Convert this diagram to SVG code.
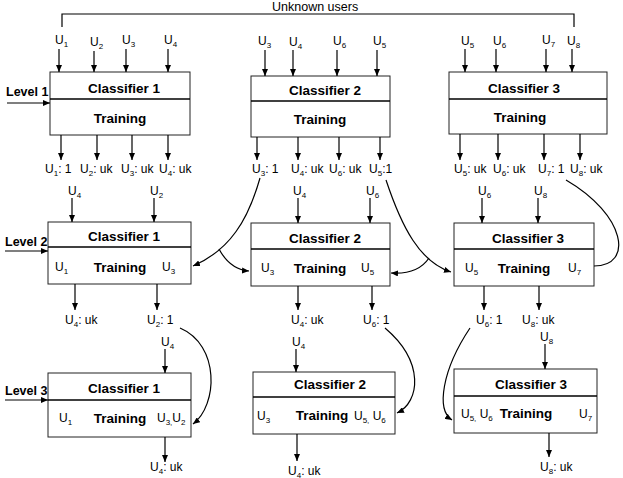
<svg xmlns="http://www.w3.org/2000/svg" width="623" height="478" viewBox="0 0 623 478">
<style>
text{font-family:"Liberation Sans",Arial,sans-serif;fill:#000}
.t{font-size:13.5px;font-weight:bold;text-anchor:middle}
.lv{font-size:12.5px;font-weight:bold}
.u{font-size:12px}
.s{font-size:8px}
.box{fill:#fff;stroke:#222;stroke-width:1}
.div{stroke:#000;stroke-width:1.6}
.c line,.c path{stroke:#000;stroke-width:1.2;fill:none}
.a{marker-end:url(#ah)}
</style>
<defs>
<marker id="ah" viewBox="0 0 7 6" refX="7" refY="3" markerWidth="7" markerHeight="6" orient="auto" markerUnits="userSpaceOnUse">
<path d="M0,0 L7,3 L0,6 z" fill="#000"/>
</marker>
</defs>
<rect width="623" height="478" fill="#fff"/>

<!-- level labels -->
<g id="levels">
<text class="lv" x="6" y="96">Level 1</text>
<text class="lv" x="5" y="246">Level 2</text>
<text class="lv" x="5" y="395">Level 3</text>
<text class="u" x="272" y="11" style="font-size:12.5px">Unknown users</text>
</g>

<!-- Level 1 nodes -->
<g id="L1C1">
<rect class="box" x="50" y="72" width="140" height="63"/>
<line class="div" x1="50" y1="99" x2="190" y2="99"/>
<text class="t" x="124" y="93">Classifier 1</text>
<text class="t" x="120" y="123">Training</text>
</g>
<g id="L1C2">
<rect class="box" x="251" y="76" width="139" height="61"/>
<line class="div" x1="251" y1="101" x2="390" y2="101"/>
<text class="t" x="325" y="95">Classifier 2</text>
<text class="t" x="320" y="124">Training</text>
</g>
<g id="L1C3">
<rect class="box" x="449" y="72" width="158" height="62"/>
<line class="div" x1="449" y1="99" x2="607" y2="99"/>
<text class="t" x="524" y="93">Classifier 3</text>
<text class="t" x="520" y="122">Training</text>
</g>

<!-- Level 2 nodes -->
<g id="L2C1">
<rect class="box" x="48" y="222" width="143" height="62"/>
<line class="div" x1="48" y1="247" x2="191" y2="247"/>
<text class="t" x="124" y="241">Classifier 1</text>
<text class="t" x="120" y="272">Training</text>
<text class="u" x="55" y="271">U<tspan class="s" dy="2.5">1</tspan></text>
<text class="u" x="162" y="271">U<tspan class="s" dy="2.5">3</tspan></text>
</g>
<g id="L2C2">
<rect class="box" x="251" y="223" width="139" height="63"/>
<line class="div" x1="251" y1="249" x2="390" y2="249"/>
<text class="t" x="325" y="243">Classifier 2</text>
<text class="t" x="320" y="273">Training</text>
<text class="u" x="261" y="272">U<tspan class="s" dy="2.5">3</tspan></text>
<text class="u" x="361" y="272">U<tspan class="s" dy="2.5">5</tspan></text>
</g>
<g id="L2C3">
<rect class="box" x="454" y="223" width="140" height="63"/>
<line class="div" x1="454" y1="249" x2="594" y2="249"/>
<text class="t" x="528" y="243">Classifier 3</text>
<text class="t" x="524" y="273">Training</text>
<text class="u" x="465" y="272">U<tspan class="s" dy="2.5">5</tspan></text>
<text class="u" x="568" y="272">U<tspan class="s" dy="2.5">7</tspan></text>
</g>

<!-- Level 3 nodes -->
<g id="L3C1">
<rect class="box" x="48" y="373" width="143" height="64"/>
<line class="div" x1="48" y1="400" x2="191" y2="400"/>
<text class="t" x="124" y="393">Classifier 1</text>
<text class="t" x="120" y="423">Training</text>
<text class="u" x="59" y="422">U<tspan class="s" dy="2.5">1</tspan></text>
<text class="u" x="157" y="422">U<tspan class="s" dy="2.5">3,</tspan><tspan dy="-2.5">U</tspan><tspan class="s" dy="2.5">2</tspan></text>
</g>
<g id="L3C2">
<rect class="box" x="253" y="372" width="142" height="62"/>
<line class="div" x1="253" y1="397" x2="395" y2="397"/>
<text class="t" x="330" y="389">Classifier 2</text>
<text class="t" x="322" y="420">Training</text>
<text class="u" x="257" y="420">U<tspan class="s" dy="2.5">3</tspan></text>
<text class="u" x="354" y="420">U<tspan class="s" dy="2.5">5,</tspan><tspan dy="-2.5"> U</tspan><tspan class="s" dy="2.5">6</tspan></text>
</g>
<g id="L3C3">
<rect class="box" x="454" y="369" width="143" height="64"/>
<line class="div" x1="454" y1="396" x2="597" y2="396"/>
<text class="t" x="531" y="389">Classifier 3</text>
<text class="t" x="526" y="418">Training</text>
<text class="u" x="461" y="418">U<tspan class="s" dy="2.5">5,</tspan><tspan dy="-2.5"> U</tspan><tspan class="s" dy="2.5">6</tspan></text>
<text class="u" x="579" y="418">U<tspan class="s" dy="2.5">7</tspan></text>
</g>

<!-- connectors -->
<g id="connectors" class="c">
<!-- bracket -->
<path d="M62,27 V14 H574 V27"/>
<!-- level arrows -->
<line class="a" x1="7" y1="103" x2="50" y2="103"/>
<line class="a" x1="5" y1="251" x2="48" y2="251"/>
<line class="a" x1="5" y1="400" x2="48" y2="400"/>
<!-- L1 inputs -->
<line class="a" x1="59" y1="49" x2="59" y2="72"/>
<line class="a" x1="94" y1="51" x2="94" y2="72"/>
<line class="a" x1="126" y1="49" x2="126" y2="72"/>
<line class="a" x1="168" y1="49" x2="168" y2="72"/>
<line class="a" x1="265" y1="50" x2="265" y2="76"/>
<line class="a" x1="293" y1="50" x2="293" y2="76"/>
<line class="a" x1="337" y1="50" x2="337" y2="76"/>
<line class="a" x1="377" y1="50" x2="377" y2="76"/>
<line class="a" x1="465" y1="49" x2="465" y2="72"/>
<line class="a" x1="496" y1="49" x2="496" y2="72"/>
<line class="a" x1="546" y1="49" x2="546" y2="72"/>
<line class="a" x1="572" y1="49" x2="572" y2="72"/>
<!-- L1 outputs -->
<line class="a" x1="61" y1="135" x2="61" y2="160"/>
<line class="a" x1="97" y1="135" x2="97" y2="160"/>
<line class="a" x1="132" y1="135" x2="132" y2="160"/>
<line class="a" x1="168" y1="135" x2="168" y2="160"/>
<line class="a" x1="257" y1="137" x2="257" y2="160"/>
<line class="a" x1="298" y1="137" x2="298" y2="160"/>
<line class="a" x1="339" y1="137" x2="339" y2="160"/>
<line class="a" x1="380" y1="137" x2="380" y2="160"/>
<line class="a" x1="460" y1="134" x2="460" y2="160"/>
<line class="a" x1="498" y1="134" x2="498" y2="160"/>
<line class="a" x1="544" y1="134" x2="544" y2="160"/>
<line class="a" x1="580" y1="134" x2="580" y2="160"/>
<!-- L2 inputs -->
<line class="a" x1="72" y1="198" x2="72" y2="222"/>
<line class="a" x1="154" y1="198" x2="154" y2="222"/>
<line class="a" x1="298" y1="198" x2="298" y2="223"/>
<line class="a" x1="370" y1="198" x2="370" y2="223"/>
<line class="a" x1="482" y1="198" x2="482" y2="223"/>
<line class="a" x1="538" y1="198" x2="538" y2="223"/>
<!-- L2 outputs -->
<line class="a" x1="75" y1="284" x2="75" y2="310"/>
<line class="a" x1="157" y1="284" x2="157" y2="310"/>
<line class="a" x1="298" y1="286" x2="298" y2="310"/>
<line class="a" x1="372" y1="286" x2="372" y2="310"/>
<line class="a" x1="484" y1="286" x2="484" y2="310"/>
<line class="a" x1="539" y1="286" x2="539" y2="310"/>
<!-- L3 inputs -->
<line class="a" x1="165" y1="349" x2="165" y2="373"/>
<line class="a" x1="296" y1="349" x2="296" y2="372"/>
<line class="a" x1="545" y1="344" x2="545" y2="369"/>
<!-- L3 outputs -->
<line class="a" x1="165" y1="437" x2="165" y2="462"/>
<line class="a" x1="297" y1="434" x2="297" y2="461"/>
<line class="a" x1="549" y1="433" x2="549" y2="457"/>
<!-- feedback curves -->
<path class="a" d="M260,178 C248,220 230,250 193,266"/>
<path class="a" d="M219,249 C226,262 236,270 249,271"/>
<path class="a" d="M386,180 C402,228 420,262 451,272"/>
<path class="a" d="M429,258 C421,270 407,274 391,273"/>
<path d="M566,180 C626,215 634,266 594,266"/>
<path class="a" d="M180,328 C220,345 218,405 193,424"/>
<path class="a" d="M385,328 C425,362 420,402 397,413"/>
<path class="a" d="M470,328 C442,370 436,410 452,420"/>
</g>

<!-- port labels -->
<g id="labels">
<text class="u" x="55" y="44">U<tspan class="s" dy="2.5">1</tspan></text>
<text class="u" x="90" y="46">U<tspan class="s" dy="2.5">2</tspan></text>
<text class="u" x="122" y="44">U<tspan class="s" dy="2.5">3</tspan></text>
<text class="u" x="164" y="44">U<tspan class="s" dy="2.5">4</tspan></text>
<text class="u" x="258" y="45">U<tspan class="s" dy="2.5">3</tspan></text>
<text class="u" x="289" y="46">U<tspan class="s" dy="2.5">4</tspan></text>
<text class="u" x="333" y="45">U<tspan class="s" dy="2.5">6</tspan></text>
<text class="u" x="373" y="45">U<tspan class="s" dy="2.5">5</tspan></text>
<text class="u" x="461" y="45">U<tspan class="s" dy="2.5">5</tspan></text>
<text class="u" x="493" y="45">U<tspan class="s" dy="2.5">6</tspan></text>
<text class="u" x="542" y="44">U<tspan class="s" dy="2.5">7</tspan></text>
<text class="u" x="567" y="45">U<tspan class="s" dy="2.5">8</tspan></text>

<text class="u" x="45" y="173">U<tspan class="s" dy="2.5">1</tspan><tspan dy="-2.5">: 1</tspan></text>
<text class="u" x="80" y="173">U<tspan class="s" dy="2.5">2</tspan><tspan dy="-2.5">: uk</tspan></text>
<text class="u" x="121" y="173">U<tspan class="s" dy="2.5">3</tspan><tspan dy="-2.5">: uk</tspan></text>
<text class="u" x="159" y="173">U<tspan class="s" dy="2.5">4</tspan><tspan dy="-2.5">: uk</tspan></text>
<text class="u" x="252" y="173">U<tspan class="s" dy="2.5">3</tspan><tspan dy="-2.5">: 1</tspan></text>
<text class="u" x="291" y="173">U<tspan class="s" dy="2.5">4</tspan><tspan dy="-2.5">: uk</tspan></text>
<text class="u" x="329" y="173">U<tspan class="s" dy="2.5">6</tspan><tspan dy="-2.5">: uk</tspan></text>
<text class="u" x="369" y="173">U<tspan class="s" dy="2.5">5</tspan><tspan dy="-2.5">:1</tspan></text>
<text class="u" x="454" y="173">U<tspan class="s" dy="2.5">5</tspan><tspan dy="-2.5">: uk</tspan></text>
<text class="u" x="493" y="173">U<tspan class="s" dy="2.5">6</tspan><tspan dy="-2.5">: uk</tspan></text>
<text class="u" x="538" y="173">U<tspan class="s" dy="2.5">7</tspan><tspan dy="-2.5">: 1</tspan></text>
<text class="u" x="570" y="173">U<tspan class="s" dy="2.5">8</tspan><tspan dy="-2.5">: uk</tspan></text>

<text class="u" x="68" y="195">U<tspan class="s" dy="2.5">4</tspan></text>
<text class="u" x="150" y="195">U<tspan class="s" dy="2.5">2</tspan></text>
<text class="u" x="293" y="195">U<tspan class="s" dy="2.5">4</tspan></text>
<text class="u" x="366" y="195">U<tspan class="s" dy="2.5">6</tspan></text>
<text class="u" x="478" y="195">U<tspan class="s" dy="2.5">6</tspan></text>
<text class="u" x="534" y="195">U<tspan class="s" dy="2.5">8</tspan></text>

<text class="u" x="65" y="324">U<tspan class="s" dy="2.5">4</tspan><tspan dy="-2.5">: uk</tspan></text>
<text class="u" x="147" y="324">U<tspan class="s" dy="2.5">2</tspan><tspan dy="-2.5">: 1</tspan></text>
<text class="u" x="291" y="324">U<tspan class="s" dy="2.5">4</tspan><tspan dy="-2.5">: uk</tspan></text>
<text class="u" x="363" y="324">U<tspan class="s" dy="2.5">6</tspan><tspan dy="-2.5">: 1</tspan></text>
<text class="u" x="476" y="324">U<tspan class="s" dy="2.5">6</tspan><tspan dy="-2.5">: 1</tspan></text>
<text class="u" x="522" y="324">U<tspan class="s" dy="2.5">8</tspan><tspan dy="-2.5">: uk</tspan></text>

<text class="u" x="161" y="346">U<tspan class="s" dy="2.5">4</tspan></text>
<text class="u" x="292" y="346">U<tspan class="s" dy="2.5">4</tspan></text>
<text class="u" x="540" y="341">U<tspan class="s" dy="2.5">8</tspan></text>

<text class="u" x="150" y="471">U<tspan class="s" dy="2.5">4</tspan><tspan dy="-2.5">: uk</tspan></text>
<text class="u" x="288" y="475">U<tspan class="s" dy="2.5">4</tspan><tspan dy="-2.5">: uk</tspan></text>
<text class="u" x="540" y="471">U<tspan class="s" dy="2.5">8</tspan><tspan dy="-2.5">: uk</tspan></text>
</g>
</svg>
